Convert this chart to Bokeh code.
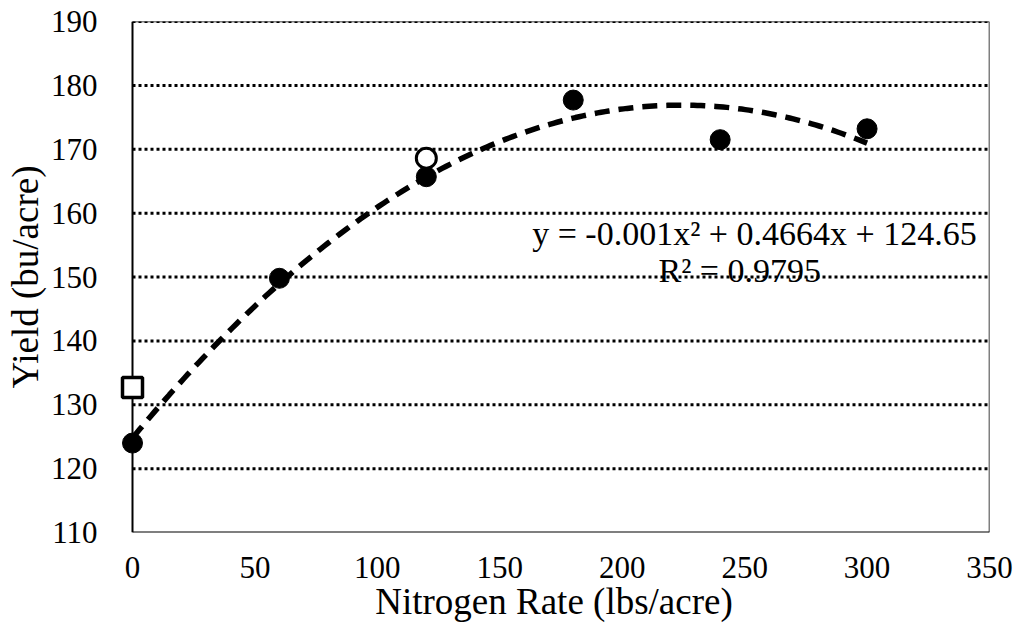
import numpy as np
from bokeh.plotting import figure
from bokeh.models import Range1d, FixedTicker, Label
from bokeh.embed import file_html
from bokeh.resources import INLINE

# data
rate = [0, 60, 120, 180, 240, 300]
yield_ = [124.0, 149.8, 165.7, 177.7, 171.5, 173.2]
open_circle_x = [120]
open_circle_y = [168.6]
open_square_x = [0]
open_square_y = [132.7]
x_ticks = [0, 50, 100, 150, 200, 250, 300, 350]
y_ticks = [110, 120, 130, 140, 150, 160, 170, 180, 190]
eq_text = "y = -0.001x\u00b2 + 0.4664x + 124.65"
r2_text = "R\u00b2 = 0.9795"

FONT = "Liberation Serif"
X_MIN, X_MAX = x_ticks[0], x_ticks[-1]
Y_MIN, Y_MAX = y_ticks[0], y_ticks[-1]

# small room left of x=0 so markers at x=0 are not clipped
px_per_unit = (989 - 132) / (X_MAX - X_MIN)
pad_px = 14
x_start = X_MIN - pad_px / px_per_unit

p = figure(width=1016, height=624, output_backend="svg", toolbar_location=None,
           x_range=Range1d(x_start, X_MAX), y_range=Range1d(Y_MIN, Y_MAX),
           min_border_left=132 - pad_px, min_border_right=27, min_border_top=21,
           min_border_bottom=92)
p.background_fill_color = "white"
p.border_fill_color = "white"
p.outline_line_color = None

p.xgrid.visible = False
p.ygrid.visible = False

for ax in (p.xaxis[0], p.yaxis[0]):
    ax.axis_line_color = None
    ax.major_tick_line_color = None
    ax.minor_tick_line_color = None
    ax.major_label_text_font = FONT
    ax.major_label_text_font_size = "31px"
    ax.major_label_text_color = "black"
    ax.axis_label_text_font = FONT
    ax.axis_label_text_font_size = "37px"
    ax.axis_label_text_font_style = "normal"
    ax.axis_label_text_color = "black"

p.xaxis.ticker = FixedTicker(ticks=x_ticks)
p.yaxis.ticker = FixedTicker(ticks=y_ticks)
p.xaxis.axis_label = "Nitrogen Rate (lbs/acre)"
p.yaxis.axis_label = "Yield (bu/acre)"
p.xaxis.major_label_standoff = 18
p.yaxis.major_label_standoff = 15
p.xaxis.axis_label_standoff = 0
p.yaxis.axis_label_standoff = 2

# dotted horizontal gridlines from x=0 to the right edge
grid_ys = y_ticks[1:]
p.segment(x0=[X_MIN] * len(grid_ys), x1=[X_MAX] * len(grid_ys), y0=grid_ys, y1=grid_ys,
          line_color="black", line_width=3, line_dash="3 3")
# plot frame: left axis, bottom axis, top and right borders
p.segment(x0=[X_MIN, X_MIN], x1=[X_MIN, X_MAX], y0=[Y_MIN, Y_MIN], y1=[Y_MAX, Y_MIN],
          line_color="black", line_width=2)
p.segment(x0=[X_MIN, X_MAX], x1=[X_MAX, X_MAX], y0=[Y_MAX, Y_MIN], y1=[Y_MAX, Y_MAX],
          line_color="black", line_width=1.5)

# polynomial trend line fitted to the data
coef = np.polyfit(rate, yield_, 2)
xs = np.linspace(min(rate), max(rate), 200)
p.line(xs, np.polyval(coef, xs), line_color="black", line_width=5.5, line_dash="15 9")

p.scatter(rate, yield_, size=20, marker="circle", fill_color="black", line_color="black")
p.scatter(open_circle_x, open_circle_y, size=20, marker="circle", fill_color="white",
          line_color="black", line_width=3)
p.scatter(open_square_x, open_square_y, size=20, marker="square", fill_color="white",
          line_color="black", line_width=3.5)

p.add_layout(Label(x=254, y=156.8, text=eq_text, text_font=FONT, text_font_size="34px",
                   text_align="center", text_baseline="middle", text_color="black"))
p.add_layout(Label(x=248, y=151.0, text=r2_text, text_font=FONT, text_font_size="34px",
                   text_align="center", text_baseline="middle", text_color="black"))

open("out.html", "w").write(file_html(p, INLINE))
